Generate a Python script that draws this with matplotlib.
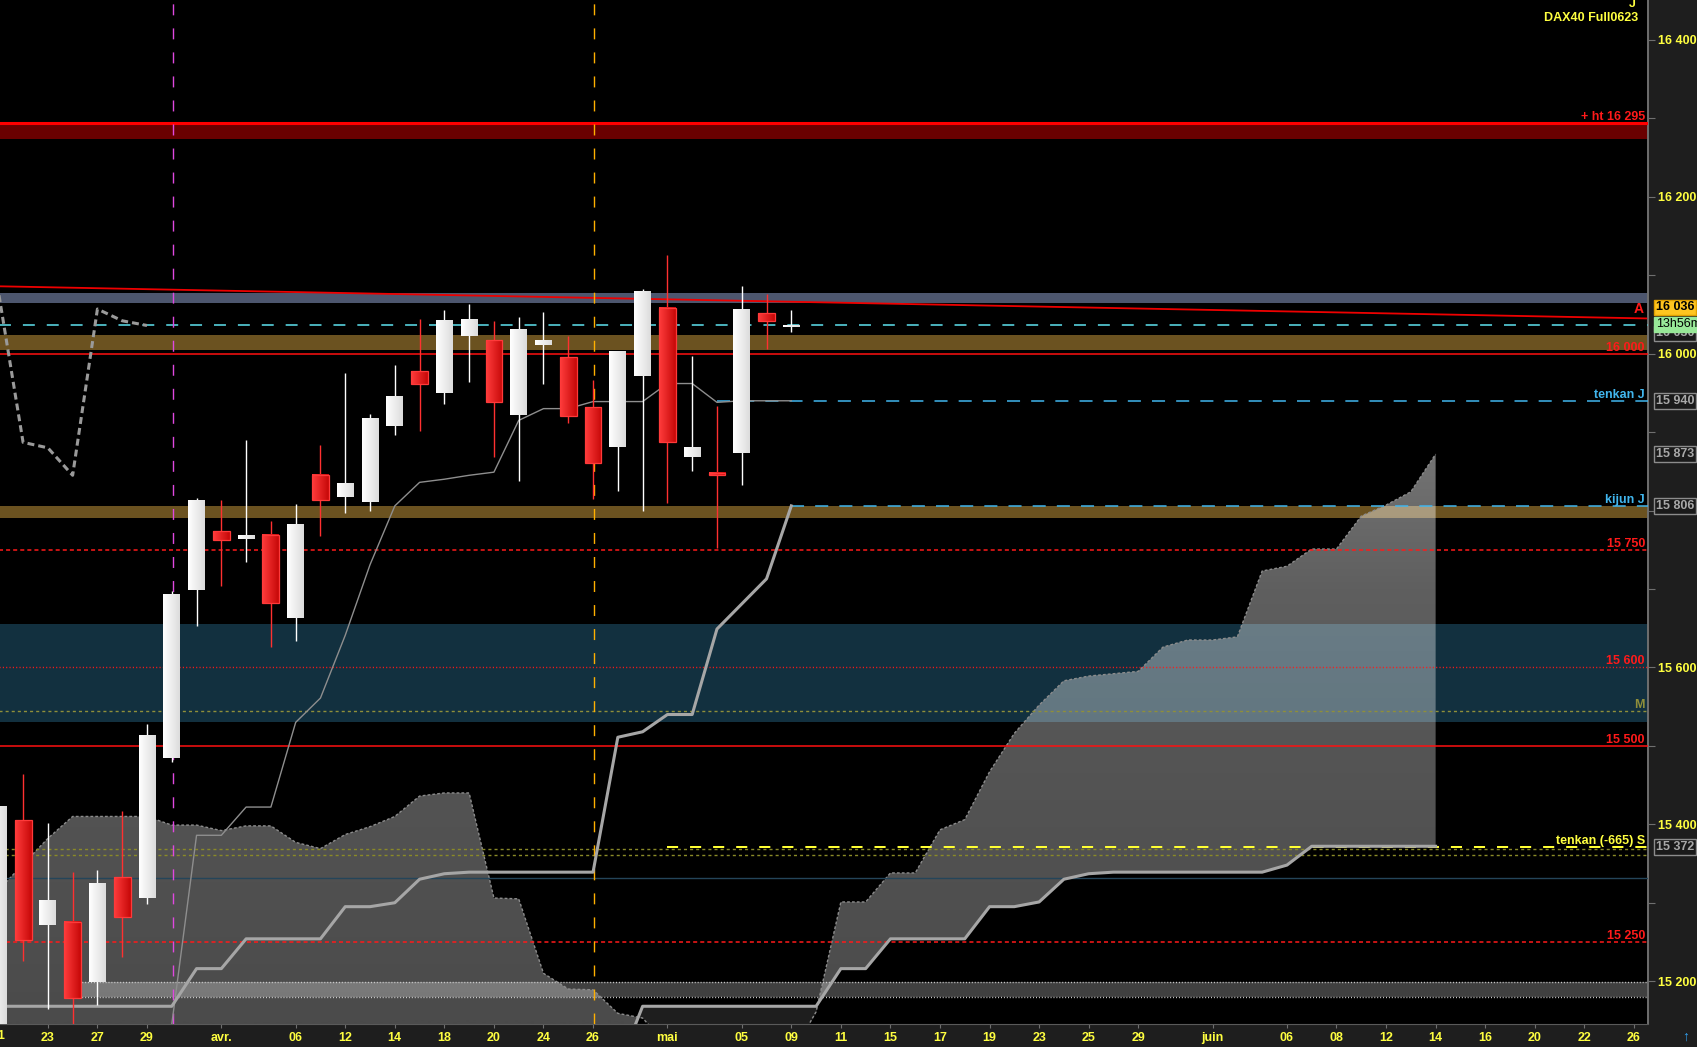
import numpy as np
import matplotlib
matplotlib.use('Agg')
import matplotlib.pyplot as plt
from matplotlib.path import Path
from matplotlib.patches import Rectangle
from matplotlib.colors import to_rgb

plt.rcParams['font.family'] = ['Liberation Sans', 'DejaVu Sans']
plt.rcParams['lines.scale_dashes'] = False

# DAX40 Full0623, daily bars: index 0 = 21 mars ... 32 = 09 mai (current bar)
opens = [15140, 15406, 15271, 15276, 15199, 15333, 15306, 15485, 15699, 15774,
         15764, 15769, 15663, 15845, 15817, 15811, 15908, 15978, 15950, 16023,
         16017, 15922, 16011, 15996, 15932, 15881, 15972, 16058, 15868, 15848,
         15874, 16052, 16034]
highs = [15425, 15464, 15402, 15339, 15342, 15417, 15528, 15697, 15816, 15813,
         15890, 15787, 15809, 15884, 15976, 15923, 15986, 16044, 16056, 16063,
         16042, 16047, 16053, 16023, 15966, 16004, 16082, 16126, 15997, 15933,
         16086, 16076, 16056]
lows = [15120, 15226, 15164, 15130, 15170, 15231, 15298, 15480, 15653, 15704,
        15735, 15626, 15634, 15767, 15797, 15799, 15896, 15901, 15936, 15964,
        15868, 15838, 15962, 15912, 15815, 15825, 15799, 15810, 15850, 15752,
        15833, 16006, 16028]
closes = [15423, 15253, 15302, 15179, 15324, 15282, 15513, 15694, 15813, 15763,
          15769, 15682, 15782, 15813, 15834, 15917, 15945, 15962, 16042, 16044,
          15939, 16031, 16017, 15921, 15861, 16003, 16080, 15887, 15880, 15845,
          16057, 16042, 16036]

# ichimoku
tenkan_start = 6
tenkan = [15100, 15145, 15386, 15386, 15422, 15422, 15530, 15561, 15641, 15731,
          15806, 15836, 15840, 15845, 15849, 15915, 15930, 15930, 15939, 15939,
          15939, 15962, 15962, 15938, 15940, 15940, 15940]
kijun = [15168, 15168, 15168, 15168, 15168, 15168, 15168, 15168, 15216, 15216,
         15254, 15254, 15254, 15254, 15295, 15295, 15300, 15330, 15337, 15339,
         15339, 15339, 15339, 15339, 15339, 15511, 15518, 15540, 15540, 15649,
         15681, 15713, 15806]
senkou_a = [15316, 15349, 15382, 15410, 15410, 15410, 15410, 15399, 15399, 15392,
            15398, 15398, 15377, 15369, 15387, 15397, 15410, 15436, 15440, 15440,
            15306, 15305, 15210, 15190, 15189, 15159, 15153, 15118, 15095, 15090,
            15090, 15095, 15105, 15161, 15301, 15301, 15338, 15338, 15393, 15406,
            15467, 15516, 15552, 15583, 15589, 15592, 15595, 15626, 15635, 15635,
            15639, 15723, 15729, 15751, 15751, 15793, 15807, 15824, 15872]
senkou_b = [15060, 15060, 15060, 15060, 15060, 15060, 15060, 15060, 15060, 15060,
            15060, 15060, 15060, 15060, 15060, 15060, 15060, 15060, 15060, 15060,
            15060, 15060, 15060, 15060, 15060, 15088, 15168, 15168, 15168, 15168,
            15168, 15168, 15168, 15168, 15216, 15216, 15254, 15254, 15254, 15254,
            15295, 15295, 15301, 15330, 15337, 15339, 15339, 15339, 15339, 15339,
            15339, 15339, 15348, 15372, 15372, 15372, 15372, 15372, 15372]
chikou_shift = 26

tick_pos = [0, 2, 4, 6, 9, 12, 14, 16, 18, 20, 22, 24, 27, 30, 32, 34, 36, 38,
            40, 42, 44, 46, 49, 52, 54, 56, 58, 60, 62, 64, 66]
tick_lab = ['21', '23', '27', '29', 'avr.', '06', '12', '14', '18', '20', '24',
            '26', 'mai', '05', '09', '11', '15', '17', '19', '23', '25', '29',
            'juin', '06', '08', '12', '14', '16', '20', '22', '26']

# drawn levels
ht_level = 16294
ht_band = (16274, 16292)
grey_zone = (16065, 16078)
zone_16000 = (16005, 16024)
level_16000 = 16000
tenkan_j = 15940
kijun_j = 15806
kijun_zone = (15791, 15806)
level_15750 = 15750
blue_zone = (15531, 15655)
level_15600 = 15600
level_m = 15544
level_15500 = 15500
tenkan_s = 15371.5
olive_levels = [15368, 15361]
steel_level = 15331
level_15250 = 15250
dark_zone = (15180, 15198.5)
trend_x = [0, 66.5]
trend_y = [16086, 16045]
last_price = 16036

W, H = 1697, 1047
fig = plt.figure(figsize=(W / 100, H / 100), dpi=100, facecolor='#1e1e1e')
ax = fig.add_axes([0, 23 / H, 1648 / W, 1024 / H], facecolor='black')
x0, x1 = 0.0686, 66.57
y0, y1 = 15145.4, 16451

full = [x0 - 1, x1 + 1]

# zones
def zone(lo, hi, color, xs=None):
    a = full[0] if xs is None else xs
    ax.fill_between([a, full[1]], lo, hi, color=color, lw=0, zorder=1)

zone(*ht_band, '#6a0000')
zone(*grey_zone, '#4d566e')
zone(*zone_16000, '#6b5220')
zone(*kijun_zone, '#6b5220')
zone(*blue_zone, '#12303f')
zone(*dark_zone, '#404040', xs=3)

# kumo
xs = np.arange(len(senkou_a))
A = np.array(senkou_a, float)
B = np.array(senkou_b, float)
up = ax.fill_between(xs, A, B, where=A >= B, interpolate=True,
                     facecolor='none', edgecolor='none')
clip = Path.make_compound_path(*up.get_paths())
yy = np.linspace(y0, y1, 400)
g = np.interp(yy, [15150, 15500, 15700, 15870, 16450], [76, 86, 96, 116, 130])
img = np.ones((400, 2, 4))
img[..., 3] = (g / 255)[:, None]
im = ax.imshow(img, extent=(x0, x1, y0, y1), origin='lower', aspect='auto',
               interpolation='bilinear', zorder=2)
im.set_clip_path(clip, transform=ax.transData)
ax.fill_between(xs, A, B, where=A < B, interpolate=True, color='white',
                alpha=0.12, lw=0, zorder=2)
ax.plot(xs, A, color='#8c8c8c', lw=1, dashes=(2, 1.5), zorder=3)

# horizontal lines
def hline(v, color, lw=1.0, dashes=None, start=None):
    a = full[0] if start is None else start
    kw = {} if dashes is None else {'dashes': dashes}
    ax.plot([a, full[1]], [v, v], color=color, lw=lw, zorder=3, **kw)

hline(ht_level, '#ff0000', lw=2.2)
hline(level_16000, '#ff1010', lw=1.1)
hline(last_price, '#5fe3f0', lw=1.1, dashes=(8.6, 8.6))
hline(tenkan_j, '#41b6ee', lw=1.1, dashes=(9.4, 8), start=29)
hline(kijun_j, '#41b6ee', lw=1.1, dashes=(9.4, 8), start=32)
hline(level_15750, '#ff1a1a', lw=1.1, dashes=(2.9, 2.2))
hline(level_15600, '#ff1a1a', lw=1.0, dashes=(0.8, 1.6))
hline(level_m, '#8f8f3a', lw=1.0, dashes=(2.2, 2.2))
hline(level_15500, '#ff1010', lw=1.1)
for v in olive_levels:
    hline(v, '#8a8a28', lw=1.0, dashes=(2.2, 2.2))
hline(tenkan_s, '#ffff33', lw=1.45, dashes=(8, 8.6), start=27)
hline(steel_level, '#24455a', lw=1.0)
hline(level_15250, '#ff1a1a', lw=1.1, dashes=(2.9, 2.2))
hline(dark_zone[0], '#d0d0d0', lw=1.0, dashes=(0.7, 1.4), start=3)
hline(dark_zone[1], '#d0d0d0', lw=1.0, dashes=(0.7, 1.4), start=3)
ax.plot([3, 3], dark_zone, color='#d0d0d0', lw=1.0, dashes=(0.7, 1.4), zorder=3)
ax.plot(trend_x, trend_y, color='#ee0000', lw=1.3, zorder=3)

# vertical markers
ax.axvline(7.03, color='#e048e0', lw=1.0, dashes=(7.9, 9.4), zorder=3)
ax.axvline(24.04, color='#ffb000', lw=1.0, dashes=(7.9, 9.4), zorder=3)

# ichimoku lines
ax.plot(np.arange(tenkan_start, tenkan_start + len(tenkan)), tenkan,
        color='#8e8e8e', lw=1.0, zorder=4)
ax.plot(np.arange(len(kijun)), kijun, color='#a6a6a6', lw=2.2, zorder=4)
fut = np.arange(25, len(senkou_b))
ax.plot(fut, B[25:], color='#a6a6a6', lw=2.2, zorder=4)
ch_x = np.arange(len(closes) - chikou_shift)
ax.plot(ch_x, closes[chikou_shift:], color='#9a9a9a', lw=2.2,
        dashes=(5, 2.9), zorder=4)

# candles (bodies shaded left to right)
o = np.array(opens); c = np.array(closes)
hi = np.array(highs); lo = np.array(lows)
idx = np.arange(len(o))
bull = c >= o
bottom = np.minimum(o, c)
height = np.maximum(np.abs(c - o), 1.5)
ax.vlines(idx[bull], lo[bull], hi[bull], color='#ffffff', lw=1.0, zorder=5)
ax.vlines(idx[~bull], lo[~bull], hi[~bull], color='#ff3030', lw=1.0, zorder=5)

t = np.linspace(0, 1, 32)[:, None]
def shade(left, right):
    l, r = np.array(to_rgb(left)), np.array(to_rgb(right))
    return (l * (1 - t) + r * t)[None, :, :]

white_body = shade('#ffffff', '#dcdcdc')
red_body = shade('#ff3c3c', '#c60808')
bw = 0.68
for i in idx:
    body = white_body if bull[i] else red_body
    ax.imshow(body, extent=(i - bw / 2, i + bw / 2, bottom[i], bottom[i] + height[i]),
              aspect='auto', interpolation='bilinear', zorder=6)
    if not bull[i]:
        ax.add_patch(Rectangle((i - bw / 2, bottom[i]), bw, height[i], fill=False,
                               ec='#ff3a3a', lw=0.9, zorder=6.5))

ax.set_xlim(x0, x1)
ax.set_ylim(y0, y1)

# level labels
def level_label(txt, v, color, dy=3):
    ax.annotate(txt, xy=(1, v), xycoords=('axes fraction', 'data'),
                xytext=(-3, dy), textcoords='offset pixels', ha='right',
                va='baseline', color=color, fontsize=9, fontweight='bold',
                zorder=8)

level_label('+ ht 16 295', ht_level, '#ff1a1a')
level_label('16 000', level_16000, '#ff1a1a')
level_label('tenkan J', tenkan_j, '#41b6ee')
level_label('kijun J', kijun_j, '#41b6ee')
level_label('15 750', level_15750, '#ff1a1a')
level_label('15 600', level_15600, '#ff1a1a')
level_label('M', level_m, '#8f8f3a')
level_label('15 500', level_15500, '#ff1a1a')
level_label('tenkan (-665) S', tenkan_s, '#ffff40')
level_label('15 250', level_15250, '#ff1a1a')
trend_end = np.interp(x1, trend_x, trend_y)
ax.annotate('A', xy=(1, trend_end), xycoords=('axes fraction', 'data'),
            xytext=(-4, 5), textcoords='offset pixels', ha='right',
            va='baseline', color='#ff1a1a', fontsize=10, fontweight='bold')
ax.annotate('J', xy=(1, 1), xycoords='axes fraction', xytext=(-12, -4),
            textcoords='offset pixels', ha='right', va='center',
            color='#ffff40', fontsize=9, fontweight='bold')
ax.annotate('DAX40 Full0623', xy=(1, 1), xycoords='axes fraction',
            xytext=(-10, -18), textcoords='offset pixels', ha='right',
            va='center', color='#ffff40', fontsize=9, fontweight='bold')

# axes styling
for s in ['top', 'left']:
    ax.spines[s].set_visible(False)
ax.spines['right'].set_color('#6f6f6f')
ax.spines['right'].set_linewidth(1.4)
ax.spines['bottom'].set_color('#5a5a5a')
ax.yaxis.tick_right()
yt = list(range(15200, 16401, 100))
shown = {15200, 15400, 15600, 16000, 16200, 16400}
ax.set_yticks(yt)
ax.set_yticklabels([f'{v // 1000} {v % 1000:03d}' if v in shown else '' for v in yt],
                   fontweight='bold')
ax.tick_params(axis='y', colors='#6f6f6f', labelcolor='#ffff40', labelsize=9,
               length=5, pad=2)
ax.set_xticks(tick_pos[1:])
ax.set_xticklabels(tick_lab[1:], fontweight='bold')
ax.tick_params(axis='x', colors='#6f6f6f', labelcolor='#ffff40', labelsize=9,
               length=3, pad=3)
ax.annotate(tick_lab[0], xy=(tick_pos[0], 0), xycoords=('data', 'axes fraction'),
            xytext=(0, -6), textcoords='offset pixels', ha='center', va='top',
            color='#ffff40', fontsize=9, fontweight='bold', annotation_clip=False)

# value boxes on the price axis
def axis_box(txt, v, dy=0, fc='#1a1a1a', ec='#8c8c8c', tc='#a8a8a8', weight='bold'):
    ax.annotate(txt, xy=(1, v), xycoords=('axes fraction', 'data'),
                xytext=(8, dy), textcoords='offset pixels', ha='left',
                va='center', color=tc, fontsize=9, fontweight=weight,
                bbox=dict(boxstyle='square,pad=0.15', fc=fc, ec=ec, lw=1),
                annotation_clip=False, zorder=9)

axis_box('15 940', tenkan_j)
axis_box('15 873', senkou_a[-1])
axis_box('15 806', kijun_j)
axis_box('15 372', tenkan_s)
axis_box('16 030', last_price, dy=-8)
axis_box('13h56m', last_price, dy=1, fc='#98e898', ec='#98e898', tc='black',
         weight='normal')
axis_box('16 036', last_price, dy=18, fc='#ffc520', ec='#e0a000', tc='black')

fig.text(1686 / W, 1 - 1037 / H, '↑', color='#30a0f0', fontsize=10,
         ha='center', va='center', fontweight='bold')

fig.savefig('out.png', dpi=100, facecolor=fig.get_facecolor())
